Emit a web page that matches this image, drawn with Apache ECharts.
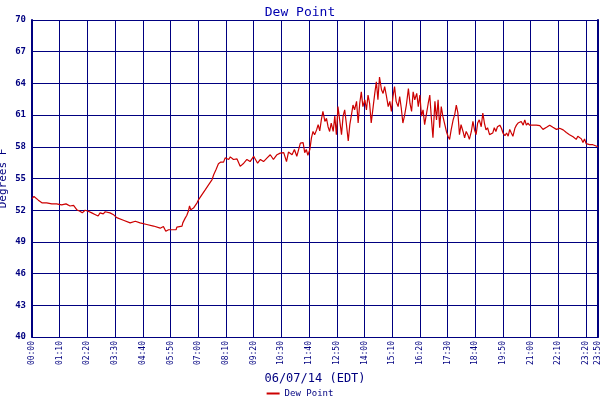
<!DOCTYPE html>
<html>
<head>
<meta charset="utf-8">
<title>Dew Point</title>
<script src="https://cdn.jsdelivr.net/npm/echarts@6/dist/echarts.min.js"></script>
<style>
  html, body { margin: 0; padding: 0; background: #fff; }
  #main { width: 600px; height: 400px; }
</style>
</head>
<body>
<div id="main"></div>
<script type="text/javascript">
// minutes after midnight, 06/07/14 (EDT)
var minutes = [
  0, 5, 10, 16, 25, 30, 37, 50, 62, 66, 75, 86, 96, 105, 113, 121, 127, 134, 142, 151,
  159, 167, 172, 180, 185, 197, 205, 214, 231, 248, 261, 273, 290, 307, 324, 332, 338, 341, 345, 355,
  364, 366, 379, 381, 387, 391, 395, 398, 401, 408, 417, 421, 429, 438, 446, 455, 459, 465, 471, 477,
  484, 488, 497, 501, 509, 518, 526, 535, 543, 551, 560, 570, 577, 585, 594, 602, 610, 619, 627, 636,
  643, 648, 657, 663, 669, 678, 685, 689, 693, 697, 702, 706, 710, 714, 719, 723, 727, 731, 735, 740,
  744, 748, 752, 756, 761, 765, 769, 773, 778, 782, 786, 790, 794, 799, 803, 807, 811, 815, 820, 824,
  828, 832, 836, 841, 845, 849, 853, 857, 862, 866, 870, 874, 878, 883, 887, 891, 895, 900, 904, 908,
  912, 916, 920, 925, 929, 933, 937, 941, 946, 951, 955, 959, 963, 967, 972, 976, 980, 984, 988, 992,
  997, 1001, 1005, 1009, 1013, 1018, 1022, 1026, 1030, 1034, 1038, 1043, 1047, 1051, 1055, 1059, 1064, 1068, 1072, 1076,
  1080, 1084, 1089, 1093, 1097, 1101, 1105, 1110, 1114, 1118, 1122, 1126, 1130, 1135, 1139, 1143, 1147, 1151, 1156, 1160,
  1164, 1168, 1172, 1176, 1182, 1186, 1190, 1195, 1199, 1203, 1207, 1211, 1215, 1220, 1224, 1228, 1232, 1236, 1241, 1245,
  1249, 1253, 1257, 1262, 1266, 1274, 1283, 1291, 1300, 1308, 1316, 1325, 1333, 1342, 1350, 1358, 1367, 1375, 1379, 1388,
  1392, 1396, 1400, 1409, 1417, 1421, 1430
];
var dewPoint = [
  53.1, 53.3, 53.15, 52.95, 52.7, 52.85, 52.7, 52.6, 52.6, 52.75, 52.5, 52.6, 52.4, 52.45, 52.05, 51.9, 51.75, 52.0, 51.9, 51.75,
  51.6, 51.45, 51.75, 51.65, 51.85, 51.75, 51.6, 51.3, 51.05, 50.8, 50.95, 50.8, 50.65, 50.5, 50.3, 50.45, 50.0, 50.1, 50.15, 50.15,
  50.15, 50.4, 50.5, 50.8, 51.25, 51.5, 51.9, 52.4, 52.05, 52.2, 52.7, 53.0, 53.45, 53.95, 54.4, 54.9, 55.35, 55.85, 56.4, 56.55,
  56.55, 56.95, 56.8, 57.05, 56.8, 56.85, 56.15, 56.45, 56.8, 56.6, 57.1, 56.45, 56.8, 56.6, 56.95, 57.25, 56.8, 57.25, 57.4, 57.45,
  56.6, 57.5, 57.25, 57.75, 57.1, 58.35, 58.4, 57.45, 57.75, 57.2, 57.75, 58.85, 59.45, 59.15, 59.6, 60.1, 59.5, 60.55, 61.35, 60.4,
  60.7, 59.9, 59.45, 60.25, 59.45, 60.9, 59.15, 61.8, 61.95, 59.15, 60.9, 61.5, 60.25, 58.55, 60.1, 61.0, 61.95, 61.5, 62.3, 60.25,
  62.1, 63.2, 61.8, 62.45, 61.5, 62.9, 62.1, 60.25, 61.8, 63.05, 64.15, 62.45, 64.6, 63.4, 63.05, 63.7, 62.9, 61.8, 62.3, 61.35,
  62.75, 63.7, 62.3, 61.8, 62.75, 61.65, 60.25, 60.9, 62.0, 63.5, 62.1, 61.35, 63.2, 62.45, 63.05, 61.8, 62.9, 60.9, 61.5, 60.1,
  61.2, 62.1, 62.9, 60.7, 58.85, 62.3, 60.55, 62.45, 59.8, 61.8, 60.9, 60.1, 59.45, 59.0, 58.7, 59.6, 60.55, 61.05, 61.95, 61.2,
  59.15, 60.1, 59.45, 58.85, 59.45, 59.15, 58.7, 59.45, 60.4, 59.6, 59.15, 60.25, 60.55, 59.9, 61.2, 60.25, 59.6, 59.8, 59.15, 59.0,
  59.3, 59.8, 59.45, 59.9, 60.05, 59.75, 59.3, 59.05, 59.3, 59.0, 59.65, 59.3, 59.0, 59.75, 60.05, 60.25, 60.15, 60.4, 60.05, 60.55,
  60.05, 60.25, 60.05, 59.9, 60.05, 60.05, 60.0, 59.65, 59.85, 60.05, 59.85, 59.65, 59.75, 59.6, 59.35, 59.15, 58.95, 58.7, 59.0, 58.75,
  58.4, 58.75, 58.3, 58.2, 58.2, 58.05, 58.0
];
// axis settings (degrees F and minutes)
var yMin = 40, yMax = 70, yStep = 3;
var xMin = 0, xMax = 1430, xStep = 70;

var navy = '#000080';
var mono = '"DejaVu Sans Mono", monospace';

function hhmm(v) {
  var h = Math.floor(v / 60), m = Math.round(v % 60);
  return (h < 10 ? '0' : '') + h + ':' + (m < 10 ? '0' : '') + m;
}

var chart = echarts.init(document.getElementById('main'));
chart.setOption({
  animation: false,
  backgroundColor: '#fff',
  title: {
    text: 'Dew Point',
    left: 'center',
    top: 1,
    textStyle: { fontFamily: mono, fontSize: 13, fontWeight: 'normal', color: '#0000b0' }
  },
  legend: {
    bottom: -3,
    left: 'center',
    icon: 'rect',
    itemWidth: 13,
    itemHeight: 2,
    textStyle: { fontFamily: mono, fontSize: 9, color: navy }
  },
  grid: { left: 32, right: 2, top: 20, bottom: 63, containLabel: false, outerBoundsMode: 'none' },
  xAxis: {
    type: 'value',
    min: xMin,
    max: xMax,
    interval: xStep,
    name: '06/07/14 (EDT)',
    nameLocation: 'middle',
    nameGap: 36,
    nameMoveOverlap: false,
    nameTextStyle: { fontFamily: mono, fontSize: 12, color: navy },
    axisLine: { show: true, lineStyle: { color: navy, width: 1 } },
    axisTick: { show: false },
    axisLabel: {
      rotate: 90,
      margin: 4,
      showMinLabel: true,
      showMaxLabel: true,
      fontFamily: mono,
      fontSize: 8,
      color: navy,
      formatter: hhmm
    },
    splitLine: { show: true, lineStyle: { color: navy, width: 1 } }
  },
  yAxis: [{
    type: 'value',
    min: yMin,
    max: yMax,
    interval: yStep,
    name: 'Degrees F',
    nameLocation: 'middle',
    nameGap: 23,
    nameMoveOverlap: false,
    nameTextStyle: { fontFamily: mono, fontSize: 11, color: navy },
    axisLine: { show: true, lineStyle: { color: navy, width: 2 } },
    axisTick: { show: false },
    axisLabel: { margin: 6, fontFamily: mono, fontSize: 9, fontWeight: 'bold', color: navy },
    splitLine: { show: true, lineStyle: { color: navy, width: 1 } }
  }, {
    type: 'value',
    position: 'right',
    min: yMin,
    max: yMax,
    interval: yStep,
    axisLine: { show: true, lineStyle: { color: navy, width: 2 } },
    axisTick: { show: false },
    axisLabel: { show: false },
    splitLine: { show: false }
  }],
  series: [{
    name: 'Dew Point',
    type: 'line',
    showSymbol: false,
    color: '#cc0000',
    lineStyle: { width: 1.2, color: '#cc0000' },
    data: minutes.map(function (m, i) { return [m, dewPoint[i]]; })
  }]
});
</script>
</body>
</html>
